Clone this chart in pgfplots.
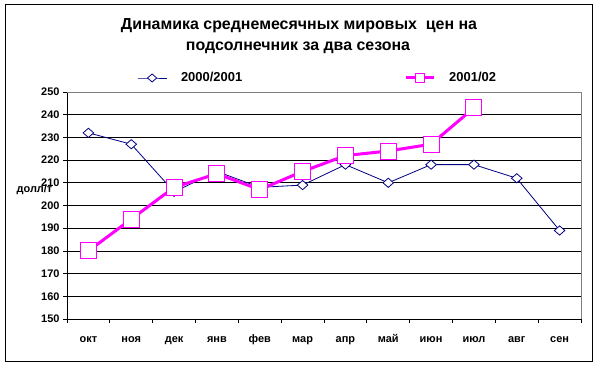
\documentclass[border=0pt]{standalone}
\usepackage{pgfplots}
\pgfplotsset{compat=1.18}
\usepackage{fontspec}
\setmainfont{Liberation Sans}
\definecolor{navyc}{RGB}{0,0,128}
\definecolor{magc}{RGB}{255,0,255}
\pgfplotsset{
  bluelegend/.style={legend image code/.code={\draw[mark repeat=2,mark phase=2,##1, mark size=4bp] plot coordinates {(0bp,0bp) (14.5bp,0bp) (29bp,0bp)};}},
  pinklegend/.style={legend image code/.code={\draw[mark repeat=2,mark phase=2,##1, mark size=4.5bp] plot coordinates {(0bp,0bp) (14bp,0bp) (28bp,0bp)};}},
}
\begin{document}
\begin{tikzpicture}[x=1bp,y=1bp]
\useasboundingbox (0,0) rectangle (597,367);
\draw[line width=0.8bp] (5,6) rectangle (592,363);
\node[font=\bfseries\fontsize{16}{18}\selectfont] at (299,341) {Динамика среднемесячных мировых\ \ цен на};
\node[font=\bfseries\fontsize{16}{18}\selectfont] at (298,319) {подсолнечник за два сезона};
\node[font=\bfseries\fontsize{11}{13}\selectfont] at (34.5,177) {долл/т};
\begin{axis}[
  at={(67bp,48bp)}, anchor=south west, scale only axis,
  width=514bp, height=227bp,
  xmin=-0.5, xmax=11.5, ymin=150, ymax=250,
  xtick={0,...,11},
  xticklabels={окт,ноя,дек,янв,фев,мар,апр,май,июн,июл,авг,сен},
  minor xtick={-0.5,0.5,...,11.5},
  ytick={150,160,...,250},
  ymajorgrids, grid style={black, line width=0.8bp},
  major x tick style={draw=none},
  tick align=outside, major tick length=4bp, minor tick length=4bp,
  tick style={black, line width=0.8bp},
  axis x line*=bottom, axis y line*=left,
  axis line style={black, line width=0.8bp, -},
  ticklabel style={font=\bfseries\fontsize{11}{13}\selectfont},
  /pgf/number format/assume math mode=true,
  xticklabel style={anchor=north, text height=8bp, text depth=2.5bp, yshift=-8bp},
  clip=false,
  legend columns=2,
  legend style={at={(rel axis cs:0.1362,1.0617)}, anchor=west, draw=none, fill=none,
    inner sep=0pt, nodes={inner sep=0pt, font=\bfseries\fontsize{13}{15}\selectfont},
    /tikz/every odd column/.append style={column sep=14bp},
    /tikz/every even column/.append style={column sep=162bp}},
]
\addplot[navyc, line width=0.8bp, mark=diamond*, mark size=4.6bp,
  mark options={xscale=1.53, fill=white, draw=navyc, line width=0.8bp}, bluelegend]
  coordinates {(0,232) (1,227) (2,206) (3,215) (4,208) (5,209) (6,218) (7,210) (8,218) (9,218) (10,212) (11,189)};
\addlegendentry{2000/2001}
\addplot[magc, line width=3bp, mark=square*, mark size=8bp,
  mark options={fill=white, draw=magc, line width=1bp}, pinklegend]
  coordinates {(0,180) (1,194) (2,208) (3,214) (4,207) (5,215) (6,222) (7,224) (8,227) (9,243)};
\addlegendentry{2001/02}
\draw[gray, line width=0.8bp] (rel axis cs:0,1) -- (rel axis cs:1,1) -- (rel axis cs:1,0);
\end{axis}
\end{tikzpicture}
\end{document}
